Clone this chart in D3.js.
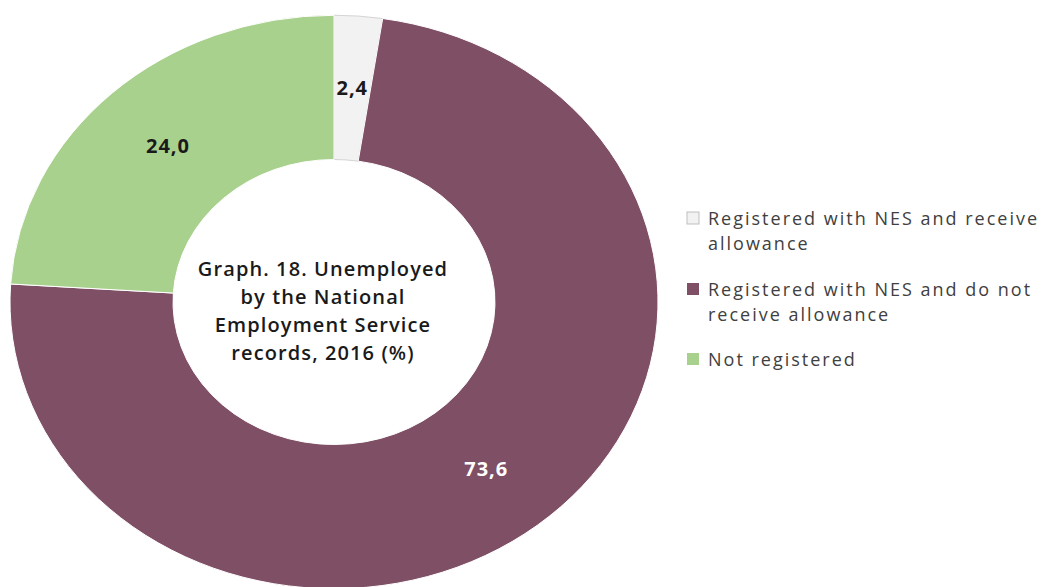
<!DOCTYPE html>
<html><head><meta charset="utf-8">
<script src="https://cdn.jsdelivr.net/npm/d3@7"></script>
<style>
html,body{margin:0;padding:0;background:#fff;}
svg{display:block;}
</style></head>
<body>
<svg id="chart" width="1053" height="587"></svg>
<script>
// ---- data ----
const categories = ["Registered with NES and receive allowance", "Registered with NES and do not receive allowance", "Not registered"];
const values = [2.4, 73.6, 24.0];
const valueLabels = ["2,4", "73,6", "24,0"];
const legendLines = [["Registered with NES and receive", "allowance"], ["Registered with NES and do not", "receive allowance"], ["Not registered"]];
const titleLines = ["Graph. 18. Unemployed", "by the National", "Employment Service", "records, 2016 (%)"];
const colors = ["#F2F2F2", "#7F4F65", "#A9D18E"];
const labelColors = ["#1a1a1a", "#ffffff", "#1a1a1a"];

// ---- layout ----
const svg = d3.select("#chart");
const cx = 334, cy = 302, rOuter = 324, rInner = 161, squash = 0.885;

const pie = d3.pie().sort(null).value(d => d);
const arcs = pie(values);
const arc = d3.arc().innerRadius(rInner).outerRadius(rOuter);
const color = d3.scaleOrdinal().domain(categories).range(colors);

const g = svg.append("g").attr("transform", `translate(${cx},${cy}) scale(1,${squash})`);
g.selectAll("path").data(arcs).enter().append("path")
  .attr("d", arc)
  .attr("fill", (d, i) => color(categories[i]))
  .attr("stroke", (d, i) => i === 0 ? "#d4d4d4" : "#ffffff")
  .attr("stroke-width", 1)
  .attr("vector-effect", "non-scaling-stroke");

// value labels
const lab = svg.append("g").attr("transform", `translate(${cx},${cy})`);
lab.selectAll("text").data(arcs).enter().append("text")
  .attr("x", d => arc.centroid(d)[0])
  .attr("y", d => arc.centroid(d)[1] * squash)
  .attr("dy", "0.35em")
  .attr("text-anchor", "middle")
  .attr("font-family", "Open Sans, sans-serif")
  .attr("font-weight", "bold")
  .attr("font-size", 20)
  .attr("letter-spacing", 1)
  .attr("fill", (d, i) => labelColors[i])
  .text((d, i) => valueLabels[i]);

// center title
const t = svg.append("text")
  .attr("text-anchor", "middle")
  .attr("font-family", "Open Sans, sans-serif")
  .attr("font-size", 20)
  .attr("font-weight", 600)
  .attr("letter-spacing", 1.1)
  .attr("fill", "#1a1a1a");
titleLines.forEach((s, i) => {
  t.append("tspan").attr("x", 323).attr("y", 276 + i * 28).text(s);
});

// legend
const leg = svg.append("g").attr("transform", "translate(687,212)");
const legendOffsets = [0, 71, 141];
categories.forEach((c, i) => {
  const row = leg.append("g").attr("transform", `translate(0,${legendOffsets[i]})`);
  row.append("rect").attr("x", 0).attr("y", 0).attr("width", 12).attr("height", 12)
    .attr("fill", color(c)).attr("stroke", i === 0 ? "#bfbfbf" : "none");
  const tx = row.append("text")
    .attr("font-family", "Open Sans, sans-serif")
    .attr("font-size", 18)
    .attr("letter-spacing", 2)
    .attr("fill", "#404040");
  legendLines[i].forEach((s, j) => {
    tx.append("tspan").attr("x", 21).attr("y", 13 + j * 25).text(s);
  });
});
</script>
</body></html>
